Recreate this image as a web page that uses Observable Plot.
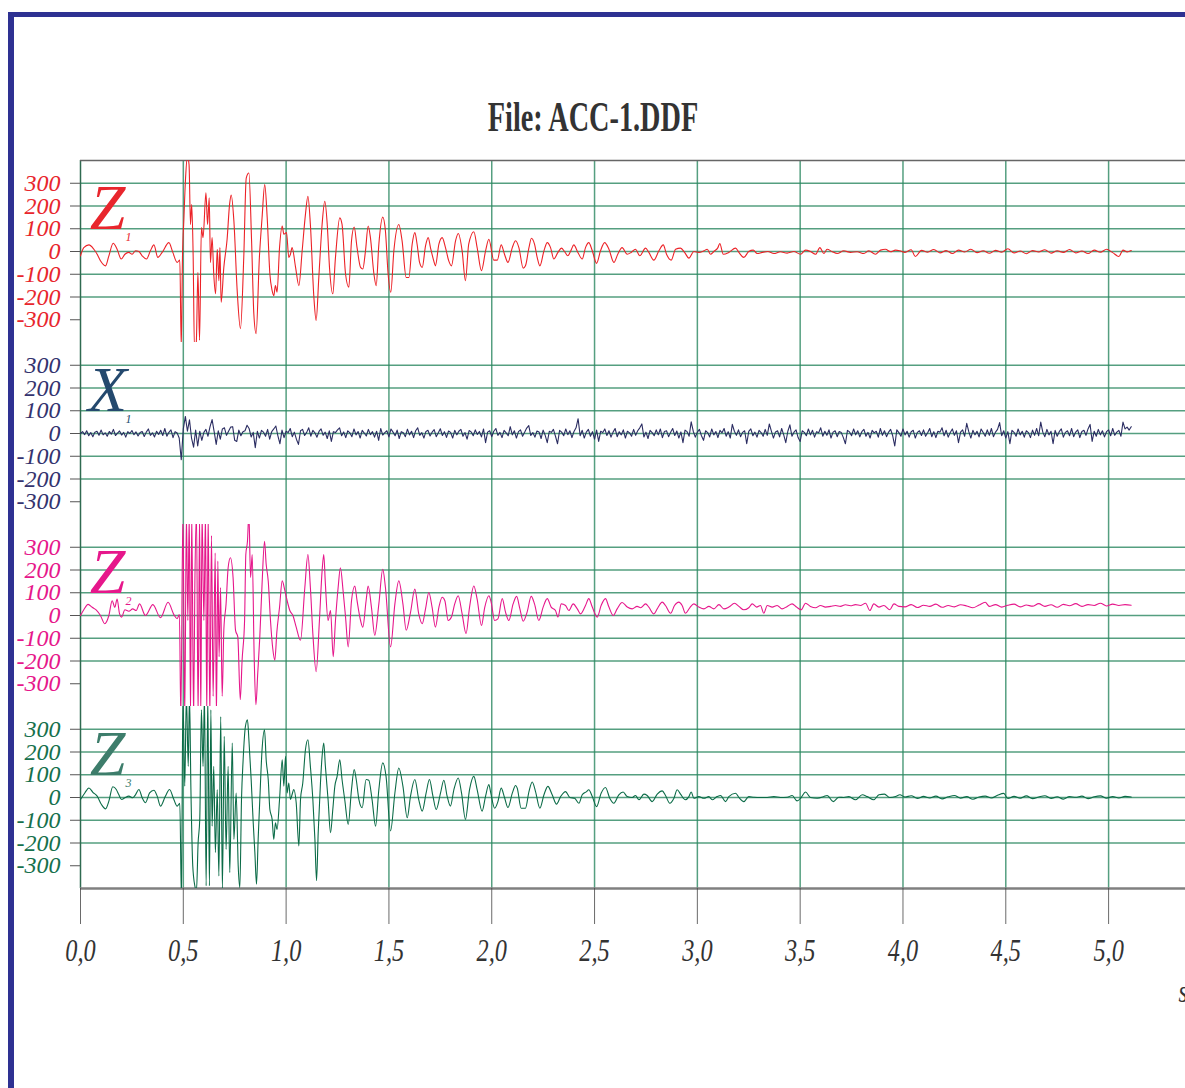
<!DOCTYPE html>
<html><head><meta charset="utf-8">
<script src="https://cdn.jsdelivr.net/npm/d3@7"></script>
<script src="https://cdn.jsdelivr.net/npm/@observablehq/plot@0.6"></script>
<style>
body{margin:0;background:#fff;}
#page{position:relative;width:1185px;height:1088px;overflow:hidden;background:#fff;}
#barL{position:absolute;left:8px;top:12px;width:6px;height:1076px;background:#2e3192;}
#barT{position:absolute;left:8px;top:12px;width:1177px;height:5px;background:#2e3192;}
#title{position:absolute;left:0;top:96px;width:1185px;text-align:center;font-family:"Liberation Serif","Times New Roman",serif;font-weight:bold;font-size:42px;line-height:42px;color:#333;transform:scaleX(0.673);transform-origin:594px 0;white-space:nowrap;}
#chart{position:absolute;left:0;top:150px;width:1185px;}
</style></head>
<body><div id="page"><div id="barL"></div><div id="barT"></div><div id="title">File: ACC-1.DDF</div><div id="chart"></div></div>
<script>
const channels = ["Z1", "X1", "Z2", "Z3"];
const traceColors = ["#ec2227", "#2b2d62", "#e6178b", "#0b6b47"];
const labelColors = ["#e8262d", "#34336e", "#e6178b", "#16704c"];
const letters = ["Z", "X", "Z", "Z"];
const subscripts = ["1", "1", "2", "3"];
const letterColors = ["#e8262d", "#24496e", "#e6178b", "#3d7d6b"];
const yTicks = [300, 200, 100, 0, -100, -200, -300];
const yGrid = [300, 200, 100, 0, -100, -200];
const xTicks = [0, 0.5, 1.0, 1.5, 2.0, 2.5, 3.0, 3.5, 4.0, 4.5, 5.0];
const timeUnit = "s";

const z1 = [
[0.000,-19],[0.016,17],[0.041,29],[0.065,10],[0.081,-12],[0.097,-41],[0.122,-63],[0.138,-19],[0.159,36],[0.178,10],
[0.198,-33],[0.216,-12],[0.235,-4],[0.251,-12],[0.268,3],[0.284,0],[0.300,-19],[0.321,-33],[0.340,3],[0.357,29],
[0.376,-26],[0.397,-4],[0.430,39],[0.449,-4],[0.470,-48],[0.483,-38],[0.490,-420],[0.496,-26],[0.503,148],[0.511,323],
[0.520,420],[0.528,381],[0.535,119],[0.541,207],[0.548,-26],[0.554,-420],[0.563,-400],[0.571,-92],[0.579,-390],[0.588,105],
[0.596,61],[0.610,258],[0.618,119],[0.626,236],[0.632,-48],[0.640,61],[0.648,-99],[0.657,-186],[0.665,10],[0.673,-128],
[0.678,17],[0.684,-223],[0.697,-70],[0.713,54],[0.725,207],[0.733,248],[0.746,134],[0.762,-172],[0.778,-339],[0.794,-26],
[0.806,323],[0.819,345],[0.832,47],[0.843,-274],[0.854,-361],[0.870,-26],[0.883,148],[0.896,294],[0.908,148],[0.921,-99],
[0.932,-172],[0.940,-194],[0.948,-150],[0.956,-179],[0.968,17],[0.981,112],[0.989,76],[1.002,83],[1.013,-26],[1.021,-12],
[1.029,17],[1.046,-70],[1.062,-150],[1.078,3],[1.094,163],[1.106,243],[1.118,119],[1.135,-201],[1.146,-303],[1.159,-114],
[1.175,119],[1.188,221],[1.200,119],[1.211,-70],[1.227,-186],[1.240,-26],[1.261,148],[1.272,119],[1.289,-99],[1.305,-157],
[1.318,47],[1.331,108],[1.345,17],[1.362,-70],[1.373,-77],[1.386,3],[1.399,112],[1.410,61],[1.427,-99],[1.438,-150],
[1.451,32],[1.470,151],[1.483,90],[1.496,-99],[1.509,-179],[1.524,3],[1.548,119],[1.564,47],[1.584,-114],[1.597,-114],
[1.613,32],[1.626,83],[1.637,32],[1.649,-48],[1.662,-70],[1.678,25],[1.691,61],[1.702,17],[1.718,-41],[1.726,-63],
[1.743,32],[1.759,61],[1.775,17],[1.791,-41],[1.804,-63],[1.824,47],[1.837,79],[1.856,3],[1.872,-128],[1.888,32],
[1.913,87],[1.929,17],[1.950,-84],[1.970,3],[1.986,54],[2.010,-38],[2.027,-38],[2.046,29],[2.062,-12],[2.079,-48],
[2.100,17],[2.116,47],[2.132,17],[2.153,-73],[2.164,-63],[2.181,17],[2.193,58],[2.208,32],[2.221,-26],[2.234,-63],
[2.254,3],[2.270,39],[2.286,17],[2.302,-33],[2.322,-4],[2.339,15],[2.354,0],[2.370,-19],[2.386,6],[2.399,29],
[2.419,-4],[2.440,-33],[2.456,17],[2.472,39],[2.489,3],[2.510,-52],[2.529,3],[2.549,39],[2.570,10],[2.594,-48],
[2.613,-12],[2.634,17],[2.659,-12],[2.678,-4],[2.699,10],[2.720,-19],[2.748,15],[2.764,-4],[2.788,-38],[2.813,3],
[2.834,29],[2.850,-12],[2.873,-38],[2.894,10],[2.918,15],[2.938,-4],[2.959,-29],[2.983,0],[3.007,-4],[3.032,3],
[3.048,10],[3.064,-12],[3.080,0],[3.100,17],[3.109,35],[3.126,-12],[3.153,-4],[3.186,15],[3.202,-4],[3.226,-26],
[3.250,0],[3.272,6],[3.291,-9],[3.315,-4],[3.343,0],[3.372,-9],[3.404,-1],[3.437,-7],[3.469,0],[3.502,-12],
[3.526,6],[3.550,0],[3.575,-12],[3.596,17],[3.615,-9],[3.631,10],[3.656,-1],[3.680,-9],[3.712,3],[3.745,-4],
[3.777,-1],[3.810,-9],[3.834,3],[3.866,-12],[3.891,6],[3.915,10],[3.939,-1],[3.964,6],[3.985,3],[4.01,-4],
[4.04,8],[4.06,-22],[4.09,5],[4.12,-3],[4.15,9],[4.18,-6],[4.21,4],[4.24,-9],[4.27,6],[4.30,-2],
[4.33,10],[4.36,-5],[4.39,3],[4.42,-8],[4.45,5],[4.48,-3],[4.51,12],[4.54,-6],[4.57,2],[4.60,-10],
[4.63,4],[4.66,-2],[4.69,8],[4.72,-7],[4.75,3],[4.78,-4],[4.81,9],[4.84,-6],[4.87,2],[4.90,-9],
[4.93,6],[4.96,-3],[4.99,10],[5.02,-5],[5.05,-22],[5.07,6],[5.09,-2],[5.11,4]
];

const x1Step = 0.01;
const x1 = [
0,8,-5,12,-10,4,-14,6,10,-8,
15,-6,3,-12,9,-3,18,-9,2,11,
-7,5,-16,8,0,13,-5,7,-11,4,
9,-13,6,20,-8,3,-15,10,-4,14,
-9,22,-12,5,16,-18,8,2,-20,-115,
20,75,10,60,-20,-60,15,-55,10,-30,
5,18,-12,30,61,8,-48,12,-25,20,
25,-8,10,28,30,-30,-35,15,-10,8,
12,36,22,-15,5,-62,10,-20,14,6,
-12,18,-25,8,20,33,-10,-45,15,-18,
10,4,22,-14,6,-25,-48,12,18,-9,
5,25,-12,14,3,-16,9,20,-8,6,
-22,12,-35,8,4,16,25,-10,7,-18,
12,3,-14,20,-6,9,-20,14,2,-11,
18,-5,8,-16,10,-30,22,-7,4,12,
-15,20,6,-10,15,-22,8,3,-14,19,
-6,10,-18,12,25,-8,4,-20,9,14,
-11,6,17,-14,3,21,-9,8,-17,11,
5,-20,14,-6,10,18,-12,4,-25,13,
7,-10,16,-4,9,-15,20,-40,6,12,
-14,10,22,-8,5,-18,14,3,-10,30,
-6,12,-20,8,16,-12,6,24,35,-9,
4,-16,11,7,-22,15,-8,-40,10,5,
18,-12,-45,14,6,-10,20,-5,12,-18,
9,25,65,-10,14,-20,6,18,-12,8,
-25,15,-35,10,4,20,-9,12,-16,6,
22,-14,8,-6,16,-20,10,3,-12,18,
-8,12,25,42,-15,6,-22,14,4,-10,
16,-6,20,-18,9,12,-14,5,22,-9,
11,-20,7,-40,15,8,-12,51,10,-16,
6,18,-10,-30,12,4,-15,20,-6,9,
-18,14,3,22,-12,8,-20,40,10,-8,
16,-14,5,12,-45,9,20,-10,6,-16,
14,4,-12,18,-8,42,10,-20,7,12,
-15,22,-6,-40,10,38,-12,6,16,-18,
-35,12,5,-10,20,-6,14,-16,8,3,
25,-12,10,-8,16,-20,6,12,-14,9,
4,-18,-45,14,7,-10,20,-6,12,-15,
8,18,-12,5,-20,14,3,10,-16,22,
-8,12,-14,6,18,-10,-55,16,4,-12,
20,-6,10,-16,8,14,-20,5,12,-9,
16,-12,3,22,-14,8,-18,10,6,25,
-10,14,-16,4,20,-8,12,-40,6,16,
-12,45,8,-20,14,-6,10,-15,20,4,
-12,16,-8,22,-14,6,18,48,-10,12,
-20,8,-45,14,5,-12,20,-6,10,-16,
12,4,-18,15,-8,22,-10,50,6,-14,
18,-6,10,-45,14,-12,8,20,-16,5,
12,-10,22,-14,6,16,-18,9,14,-8,
20,40,-35,10,-12,18,-6,12,-15,8,
16,-10,22,-8,6,14,-12,50,20,28,
15,30
];

const z2 = [
[0.000,0],[0.016,25],[0.037,49],[0.057,36],[0.076,25],[0.097,0],[0.118,-36],[0.138,0],[0.154,65],[0.167,36],
[0.178,72],[0.190,7],[0.200,-7],[0.216,25],[0.235,19],[0.254,29],[0.271,22],[0.287,51],[0.316,0],[0.352,48],
[0.389,-10],[0.426,58],[0.454,4],[0.470,-14],[0.481,4],[0.488,-450],[0.498,450],[0.507,-450],[0.515,450],[0.522,-22],
[0.529,450],[0.535,-450],[0.541,450],[0.550,-450],[0.556,123],[0.564,450],[0.572,-450],[0.579,450],[0.585,-450],[0.591,450],
[0.600,-22],[0.608,450],[0.614,-450],[0.621,450],[0.629,-450],[0.637,351],[0.645,-355],[0.655,275],[0.661,-450],[0.668,239],
[0.674,-181],[0.681,123],[0.689,-355],[0.697,-65],[0.708,51],[0.718,210],[0.729,254],[0.742,167],[0.754,-65],[0.765,-94],
[0.777,-370],[0.786,-196],[0.798,-22],[0.804,268],[0.812,326],[0.819,450],[0.827,167],[0.835,268],[0.845,-196],[0.853,-392],
[0.862,-254],[0.872,-94],[0.883,138],[0.895,326],[0.903,225],[0.913,152],[0.924,-22],[0.935,-145],[0.945,-196],[0.955,-72],
[0.968,36],[0.981,152],[0.994,109],[1.005,65],[1.018,22],[1.033,0],[1.049,-51],[1.070,-109],[1.091,123],[1.106,268],
[1.118,123],[1.131,-94],[1.146,-247],[1.162,-22],[1.175,196],[1.183,268],[1.191,138],[1.204,-22],[1.216,22],[1.229,-181],
[1.240,-22],[1.253,123],[1.264,210],[1.277,109],[1.289,-7],[1.302,-138],[1.318,65],[1.334,130],[1.345,65],[1.362,-22],
[1.373,-51],[1.389,65],[1.399,130],[1.415,36],[1.431,-87],[1.451,51],[1.470,203],[1.483,123],[1.508,-138],[1.529,51],
[1.548,152],[1.568,51],[1.584,-65],[1.605,14],[1.626,116],[1.645,7],[1.662,-36],[1.678,29],[1.694,101],[1.710,36],
[1.726,-51],[1.743,36],[1.759,80],[1.772,65],[1.788,-22],[1.804,-7],[1.820,51],[1.837,87],[1.856,7],[1.875,-80],
[1.892,36],[1.913,130],[1.929,72],[1.950,-44],[1.966,36],[1.986,87],[1.997,59],[2.014,-22],[2.030,-15],[2.051,74],
[2.067,15],[2.083,-22],[2.104,51],[2.121,84],[2.137,29],[2.153,-25],[2.172,15],[2.192,84],[2.208,51],[2.229,-22],
[2.250,37],[2.270,74],[2.289,37],[2.310,22],[2.322,-7],[2.338,51],[2.359,44],[2.375,22],[2.396,51],[2.416,29],
[2.432,7],[2.456,44],[2.472,74],[2.489,37],[2.513,-7],[2.532,44],[2.553,74],[2.570,37],[2.591,0],[2.610,29],
[2.634,57],[2.659,37],[2.683,29],[2.707,40],[2.724,34],[2.748,51],[2.764,37],[2.788,7],[2.808,34],[2.829,59],
[2.845,44],[2.870,10],[2.889,44],[2.910,59],[2.926,44],[2.942,10],[2.963,34],[2.983,51],[3.007,37],[3.032,29],
[3.056,40],[3.080,29],[3.105,48],[3.129,29],[3.153,37],[3.181,54],[3.202,40],[3.226,25],[3.250,34],[3.267,51],
[3.288,37],[3.307,44],[3.323,10],[3.340,44],[3.364,37],[3.388,44],[3.412,29],[3.437,40],[3.461,51],[3.482,37],
[3.505,25],[3.526,54],[3.550,40],[3.575,34],[3.599,44],[3.623,37],[3.648,40],[3.672,44],[3.696,40],[3.720,47],
[3.745,43],[3.769,48],[3.793,44],[3.818,54],[3.839,22],[3.858,51],[3.883,37],[3.907,44],[3.936,25],[3.956,51],
[3.980,40],[4.01,38],[4.04,48],[4.07,35],[4.10,45],[4.13,40],[4.16,50],[4.19,36],[4.22,44],[4.25,38],
[4.28,47],[4.31,42],[4.34,34],[4.37,46],[4.40,58],[4.42,40],[4.45,48],[4.48,37],[4.51,45],[4.54,50],
[4.57,38],[4.60,46],[4.63,41],[4.66,52],[4.69,40],[4.72,47],[4.75,36],[4.78,49],[4.81,43],[4.84,52],
[4.87,40],[4.90,48],[4.93,44],[4.96,54],[4.99,42],[5.02,50],[5.05,44],[5.08,48],[5.11,45]
];

const z3 = [
[0.000,-9],[0.021,20],[0.041,42],[0.060,23],[0.081,6],[0.102,-31],[0.122,-50],[0.138,-16],[0.157,47],[0.174,35],
[0.186,13],[0.200,-9],[0.216,-1],[0.235,6],[0.254,-1],[0.268,13],[0.284,35],[0.300,-1],[0.316,-23],[0.336,20],
[0.357,32],[0.373,6],[0.389,-38],[0.413,6],[0.433,35],[0.454,-9],[0.470,-38],[0.483,-26],[0.491,-450],[0.498,450],
[0.507,50],[0.515,450],[0.524,137],[0.530,450],[0.537,35],[0.546,-301],[0.556,-388],[0.564,-410],[0.572,-199],[0.580,-96],
[0.588,385],[0.596,137],[0.603,450],[0.611,-388],[0.619,450],[0.627,-388],[0.634,385],[0.640,-126],[0.648,137],[0.656,-242],
[0.665,35],[0.673,-345],[0.682,356],[0.690,-403],[0.699,269],[0.708,-228],[0.718,137],[0.726,-330],[0.738,239],[0.746,-184],
[0.757,20],[0.767,-301],[0.775,-396],[0.783,-9],[0.791,166],[0.802,312],[0.812,342],[0.819,254],[0.830,79],[0.840,-111],
[0.848,-242],[0.856,-381],[0.864,-184],[0.872,-9],[0.883,210],[0.895,298],[0.903,166],[0.913,79],[0.921,-53],[0.932,-96],
[0.940,-184],[0.948,-111],[0.956,-140],[0.968,-9],[0.981,166],[0.989,50],[0.997,181],[1.005,20],[1.013,64],[1.021,-9],
[1.029,13],[1.037,35],[1.049,-23],[1.062,-213],[1.070,-9],[1.081,64],[1.094,210],[1.106,254],[1.118,137],[1.130,-9],
[1.140,-184],[1.148,-366],[1.156,-155],[1.167,64],[1.175,181],[1.183,239],[1.191,137],[1.204,-9],[1.216,-155],[1.227,-53],
[1.237,50],[1.248,93],[1.261,166],[1.272,79],[1.285,-9],[1.302,-118],[1.318,35],[1.331,123],[1.341,79],[1.354,-9],
[1.370,-45],[1.389,79],[1.402,76],[1.418,-9],[1.435,-126],[1.451,35],[1.470,152],[1.486,93],[1.508,-147],[1.529,20],
[1.548,130],[1.568,50],[1.589,-89],[1.605,6],[1.626,79],[1.645,-9],[1.662,-60],[1.681,20],[1.697,79],[1.714,6],
[1.730,-53],[1.751,20],[1.767,76],[1.783,6],[1.799,-38],[1.816,35],[1.837,86],[1.853,20],[1.872,-96],[1.892,35],
[1.913,93],[1.929,35],[1.953,-60],[1.970,6],[1.986,57],[1.994,26],[2.014,-47],[2.030,-18],[2.046,41],[2.062,0],
[2.079,-44],[2.100,19],[2.116,53],[2.124,41],[2.143,-47],[2.164,-47],[2.181,26],[2.197,68],[2.213,26],[2.234,-47],
[2.254,12],[2.273,49],[2.294,12],[2.315,-29],[2.335,4],[2.359,26],[2.380,0],[2.403,-3],[2.424,-25],[2.440,12],
[2.461,26],[2.472,34],[2.489,4],[2.510,-40],[2.532,19],[2.553,44],[2.574,-3],[2.594,-25],[2.618,12],[2.639,24],
[2.659,4],[2.683,0],[2.699,9],[2.716,-10],[2.740,15],[2.756,9],[2.780,-18],[2.805,15],[2.829,29],[2.845,9],
[2.866,-25],[2.886,-3],[2.902,34],[2.918,15],[2.942,-10],[2.959,4],[2.970,24],[2.983,-3],[3.007,4],[3.032,-3],
[3.056,4],[3.072,-10],[3.096,4],[3.113,9],[3.137,-18],[3.153,4],[3.186,19],[3.202,0],[3.226,-18],[3.250,4],
[3.275,1],[3.307,0],[3.340,0],[3.372,4],[3.404,0],[3.437,1],[3.461,9],[3.485,-15],[3.505,0],[3.526,24],
[3.550,0],[3.583,-3],[3.615,4],[3.631,9],[3.661,-18],[3.688,1],[3.712,0],[3.737,4],[3.769,-10],[3.802,12],
[3.826,4],[3.858,-10],[3.883,12],[3.910,15],[3.936,0],[3.964,4],[3.985,12],[4.01,2],[4.04,8],[4.07,-4],
[4.10,5],[4.13,-2],[4.16,6],[4.19,-6],[4.22,3],[4.25,9],[4.28,-3],[4.31,4],[4.34,-8],[4.37,2],
[4.40,6],[4.43,-2],[4.46,10],[4.49,18],[4.51,-4],[4.54,5],[4.57,-3],[4.60,7],[4.63,-5],[4.66,2],
[4.69,8],[4.72,-4],[4.75,3],[4.78,-7],[4.81,4],[4.84,1],[4.87,6],[4.90,-5],[4.93,3],[4.96,7],
[4.99,-3],[5.02,4],[5.05,-2],[5.08,5],[5.11,2]
];

// ---- build tables for the library ----
const pairsToRows = (ch, pairs) => pairs.map(([t, v]) => ({ch, t, v}));
const rowsZ1 = pairsToRows("Z1", z1);
const rowsX1 = x1.map((v, i) => ({ch: "X1", t: i * x1Step, v}));
const rowsZ2 = pairsToRows("Z2", z2);
const rowsZ3 = pairsToRows("Z3", z3);
const yLabelRows = channels.flatMap((ch, k) => yTicks.map(v => ({ch, v, color: labelColors[k]})));
const annotRows = channels.map((ch, k) => ({ch, letter: letters[k], sub: subscripts[k], color: letterColors[k]}));
const xLabelRows = xTicks.map(t => ({ch: "Z3", t}));
const lastFacet = [{ch: "Z3", unit: timeUnit}];
const firstFacet = [{ch: "Z1"}];

const serif = "'Liberation Serif', 'Times New Roman', serif";
const gridColor = "#2b8760";
const fmt = t => t.toFixed(1).replace(".", ",");

const plot = Plot.plot({
  width: 1185,
  height: 880,
  marginTop: 8,
  marginLeft: 80,
  marginRight: 0,
  marginBottom: 141,
  style: {fontFamily: serif, background: "transparent"},
  x: {domain: [0, 5.374]},
  y: {domain: [-400, 400]},
  fy: {domain: channels, padding: 0, axis: null},
  color: {type: "identity"},
  marks: [
    Plot.ruleY(yGrid, {stroke: gridColor, strokeWidth: 1.5, strokeOpacity: 0.8}),
    Plot.ruleX(xTicks.slice(1), {stroke: gridColor, strokeWidth: 1.5, strokeOpacity: 0.8}),
    Plot.ruleX([0], {stroke: "#2f6a50", strokeWidth: 1.5}),
    Plot.ruleY(firstFacet, {fy: "ch", y: () => 400, stroke: "#666", strokeWidth: 1.5}),
    Plot.ruleY(lastFacet, {fy: "ch", y: () => -400, stroke: "#808080", strokeWidth: 2.5}),
    Plot.axisY({ticks: yTicks, tickSize: 10, tickFormat: () => "", stroke: "#555", label: null}),
    Plot.axisX({ticks: xTicks, tickSize: 36, tickFormat: () => "", stroke: "#444", strokeWidth: 0.8, label: null}),
    Plot.line(rowsZ1, {fy: "ch", x: "t", y: "v", stroke: traceColors[0], strokeWidth: 1.1, curve: "monotone-x", clip: true}),
    Plot.line(rowsX1, {fy: "ch", x: "t", y: "v", stroke: traceColors[1], strokeWidth: 1.1, clip: true}),
    Plot.line(rowsZ2, {fy: "ch", x: "t", y: "v", stroke: traceColors[2], strokeWidth: 1.1, curve: "monotone-x", clip: true}),
    Plot.line(rowsZ3, {fy: "ch", x: "t", y: "v", stroke: traceColors[3], strokeWidth: 1.1, curve: "monotone-x", clip: true}),
    Plot.text(yLabelRows, {fy: "ch", y: "v", text: d => String(d.v), frameAnchor: "left", dx: -20, textAnchor: "end", lineAnchor: "middle", fill: "color", fontSize: 24, fontStyle: "italic", fontFamily: serif}),
    Plot.text(annotRows, {fy: "ch", text: "letter", frameAnchor: "top-left", dx: 27, dy: 68, textAnchor: "middle", lineAnchor: "bottom", fill: "color", fontSize: 64, fontStyle: "italic", fontFamily: serif}),
    Plot.text(annotRows, {fy: "ch", text: "sub", frameAnchor: "top-left", dx: 45, dy: 80, textAnchor: "start", lineAnchor: "bottom", fill: "color", fontSize: 12, fontStyle: "italic", fontFamily: serif}),
    Plot.text(xLabelRows, {fy: "ch", x: "t", text: d => fmt(d.t), frameAnchor: "bottom", dy: 50, lineAnchor: "top", textAnchor: "middle", fill: "#333", fontSize: 32, fontStyle: "italic", fontFamily: serif}),
    Plot.text(lastFacet, {fy: "ch", text: "unit", frameAnchor: "bottom-right", dx: -7, dy: 113, lineAnchor: "bottom", textAnchor: "start", fill: "#333", fontSize: 32, fontStyle: "italic", fontFamily: serif})
  ]
});

document.getElementById("chart").appendChild(plot);

// condensed look of the time labels (tick labels and unit)
const condensed = new Set([...xTicks.map(fmt), timeUnit]);
d3.select(plot).selectAll("text").each(function() {
  if (!condensed.has(this.textContent)) return;
  const tr = this.getAttribute("transform");
  if (tr) {
    this.setAttribute("transform", tr + " scale(0.76,1)");
  } else {
    const x = +this.getAttribute("x") || 0, y = +this.getAttribute("y") || 0;
    this.removeAttribute("x"); this.removeAttribute("y");
    this.setAttribute("transform", `translate(${x},${y}) scale(0.76,1)`);
  }
});
</script></body></html>
